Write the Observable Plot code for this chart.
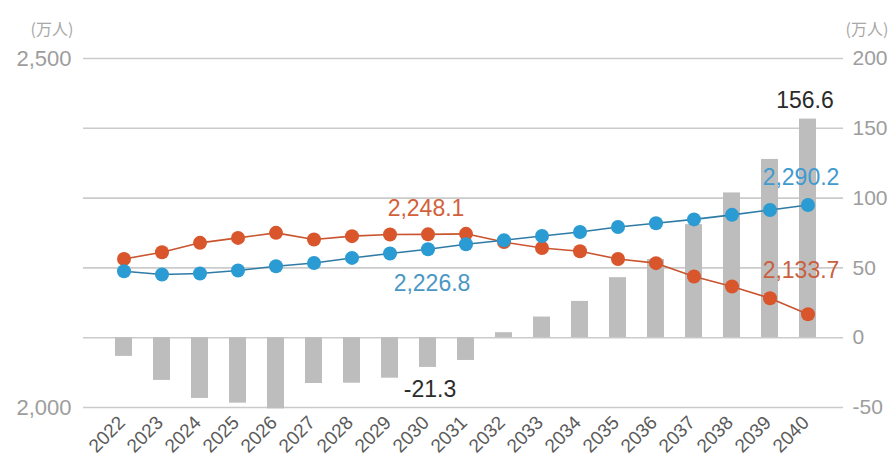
<!DOCTYPE html>
<html>
<head>
<meta charset="utf-8">
<script src="https://cdn.jsdelivr.net/npm/d3@7"></script>
<script src="https://cdn.jsdelivr.net/npm/@observablehq/plot@0.6"></script>
<style>
  body { margin: 0; background: #fff; }
  #chart svg { display: block; }
</style>
</head>
<body>
<div id="chart"></div>
<script>
// Years on the horizontal axis
const years = [2022, 2023, 2024, 2025, 2026, 2027, 2028, 2029, 2030, 2031,
               2032, 2033, 2034, 2035, 2036, 2037, 2038, 2039, 2040];

// Gap between the two series (right axis, 万人) — grey bars
const gap = [-13.4, -30.6, -43.5, -46.9, -51.0, -32.8, -32.6, -29.0, -21.3, -16.3,
             3.6, 14.8, 26.0, 43.0, 56.0, 81.0, 103.7, 127.7, 156.6];

// Orange series (left axis, 万人)
const orangeSeries = [2212.8, 2222.5, 2235.9, 2243.0, 2250.2, 2240.7, 2245.5, 2247.8, 2248.1, 2248.8,
                      2237.0, 2228.6, 2223.9, 2212.8, 2206.8, 2187.7, 2173.3, 2156.5, 2133.7];

// Blue series (left axis, 万人)
const blueSeries = [2195.2, 2190.5, 2192.0, 2196.2, 2202.4, 2207.1, 2214.3, 2220.6, 2226.8, 2233.9,
                    2239.6, 2245.8, 2251.5, 2258.7, 2264.0, 2269.5, 2276.0, 2283.0, 2290.2];

// Axis ticks
const leftTickLabels = [2000, 2500];
const gridLevels = [2000, 2100, 2200, 2300, 2400, 2500];
const rightTickLabels = [-50, 0, 50, 100, 150, 200];
const unitLabel = "(万人)";

// Right axis maps onto the left one: 0 ↔ 2,100 and 50 per 100 left units
const toLeft = v => 2100 + v * 2;
const fromLeft = d => (d - 2100) / 2;

const ORANGE = "#d9552b";
const BLUE = "#2a9bd3";
const BAR = "#bdbdbd";
const GRID = "#cbcbcb";
const TICK = "#9d9d9d";
const CJK = "'Noto Sans CJK JP', sans-serif";

const rows = years.map((year, i) => ({
  year: String(year),
  gap: gap[i],
  orange: orangeSeries[i],
  blue: blueSeries[i]
}));

const fmt1 = d3.format(",.1f");
const last = rows[rows.length - 1];
const at2030 = rows.find(d => d.year === "2030");

const chart = Plot.plot({
  width: 894,
  height: 457,
  marginTop: 58,
  marginBottom: 50,
  marginLeft: 83,
  marginRight: 51,
  style: { fontFamily: "'Liberation Sans', Arial, sans-serif", background: "#fff" },
  x: {
    type: "band",
    domain: years.map(String),
    range: [97.6, 833.4],
    paddingInner: 0.55,
    paddingOuter: 0.275
  },
  y: { domain: [2000, 2500] },
  marks: [
    // horizontal grid
    Plot.ruleY(gridLevels, { stroke: GRID, strokeWidth: 1.6 }),
    // gap bars, anchored at 0 on the right axis
    Plot.barY(rows, { x: "year", y1: () => toLeft(0), y2: d => toLeft(d.gap), fill: BAR }),
    // lines and markers
    Plot.line(rows, { x: "year", y: "orange", stroke: "#c9542e", strokeWidth: 1.6 }),
    Plot.line(rows, { x: "year", y: "blue", stroke: "#2f7ba6", strokeWidth: 1.6 }),
    Plot.dot(rows, { x: "year", y: "orange", r: 7, fill: ORANGE }),
    Plot.dot(rows, { x: "year", y: "blue", r: 7, fill: BLUE }),
    // value labels
    Plot.text([at2030], { x: "year", y: "orange", text: d => fmt1(d.orange), dy: -26, dx: -2, fill: "#d4603a", fontSize: 23 }),
    Plot.text([at2030], { x: "year", y: "blue", text: d => fmt1(d.blue), dy: 34, dx: 4, fill: "#4b97c4", fontSize: 23 }),
    Plot.text([at2030], { x: "year", y: d => toLeft(d.gap), text: d => d.gap.toFixed(1), dy: 22, dx: 2, fill: "#2b2b2b", fontSize: 23 }),
    Plot.text([last], { x: "year", y: "blue", text: d => fmt1(d.blue), dy: -27, dx: -7, fill: "#3f9ad0", fontSize: 23 }),
    Plot.text([last], { x: "year", y: "orange", text: d => fmt1(d.orange), dy: -44, dx: -7, fill: "#c9603e", fontSize: 23 }),
    Plot.text([last], { x: "year", y: d => toLeft(d.gap), text: d => d.gap.toFixed(1), dy: -18, dx: -3, fill: "#2b2b2b", fontSize: 23 }),
    // axes
    Plot.axisY(leftTickLabels, {
      anchor: "left", tickSize: 0, tickPadding: 12, label: null,
      tickFormat: d3.format(","), fontSize: 22, fill: TICK
    }),
    Plot.axisY(rightTickLabels.map(toLeft), {
      anchor: "right", tickSize: 0, tickPadding: 9, label: null,
      tickFormat: d => fromLeft(d), fontSize: 21, fill: TICK, textAnchor: "start"
    }),
    Plot.axisX({
      tickSize: 0, tickPadding: 12, tickRotate: -45, label: null, dx: -2,
      fontSize: 19, fill: "#5a5a5a"
    }),
    // unit captions
    Plot.text([unitLabel], { frameAnchor: "top-left", dx: -53, dy: -35, fill: "#a8a8a8", fontSize: 16, fontFamily: CJK, textAnchor: "start" }),
    Plot.text([unitLabel], { frameAnchor: "top-right", dx: 2, dy: -35, fill: "#a8a8a8", fontSize: 16, fontFamily: CJK, textAnchor: "start" })
  ]
});

document.getElementById("chart").append(chart);
</script>
</body>
</html>
